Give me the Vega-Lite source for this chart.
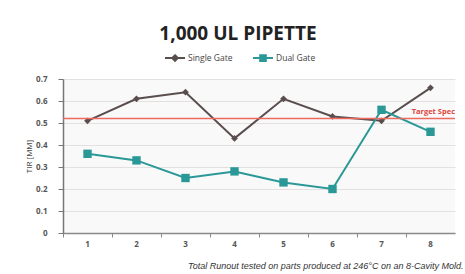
{
  "$schema": "https://vega.github.io/schema/vega-lite/v6.json",
  "width": 392,
  "height": 154,
  "autosize": {"type": "none"},
  "padding": {"left": 63, "top": 79, "right": 10, "bottom": 41},
  "background": "white",
  "config": {"view": {"fill": "#f9f9f9", "stroke": null}, "font": "Open Sans"},
  "title": {"text": "1,000 UL PIPETTE", "fontSize": 19, "fontWeight": "bold", "font": "Open Sans", "color": "#222222", "anchor": "middle", "frame": "group", "dx": -21, "offset": 3},
  "datasets": {
    "tir": [
      {"cavity": "1", "series": "Single Gate", "tir": 0.51},
      {"cavity": "2", "series": "Single Gate", "tir": 0.61},
      {"cavity": "3", "series": "Single Gate", "tir": 0.64},
      {"cavity": "4", "series": "Single Gate", "tir": 0.43},
      {"cavity": "5", "series": "Single Gate", "tir": 0.61},
      {"cavity": "6", "series": "Single Gate", "tir": 0.53},
      {"cavity": "7", "series": "Single Gate", "tir": 0.51},
      {"cavity": "8", "series": "Single Gate", "tir": 0.66},
      {"cavity": "1", "series": "Dual Gate", "tir": 0.36},
      {"cavity": "2", "series": "Dual Gate", "tir": 0.33},
      {"cavity": "3", "series": "Dual Gate", "tir": 0.25},
      {"cavity": "4", "series": "Dual Gate", "tir": 0.28},
      {"cavity": "5", "series": "Dual Gate", "tir": 0.23},
      {"cavity": "6", "series": "Dual Gate", "tir": 0.20},
      {"cavity": "7", "series": "Dual Gate", "tir": 0.56},
      {"cavity": "8", "series": "Dual Gate", "tir": 0.46}
    ],
    "target": [{"label": "Target Spec", "tir": 0.52, "cavity": "8"}]
  },
  "encoding": {
    "y": {"field": "tir", "type": "quantitative",
      "scale": {"domain": [0, 0.7], "nice": false},
      "axis": {"title": "TIR [MM]", "titleFontSize": 8, "titleFontWeight": "normal", "titleColor": "#444444", "titlePadding": 2,
        "values": [0, 0.1, 0.2, 0.3, 0.4, 0.5, 0.6, 0.7], "labelOverlap": false, "format": "~g", "labelFontSize": 8, "labelFontWeight": "bold", "labelColor": "#555555", "labelPadding": 11,
        "tickSize": 5, "tickColor": "#777777", "domainColor": "#777777", "domainWidth": 1.5, "gridColor": "#e4e0e0"}}
  },
  "layer": [
    {
      "data": {"name": "tir"},
      "mark": {"type": "line", "strokeWidth": 2},
      "encoding": {
        "x": {"field": "cavity", "type": "ordinal", "bandPosition": 0.5,
          "scale": {"type": "band", "paddingInner": 0, "paddingOuter": 0},
          "axis": {"orient": "bottom", "labelAngle": 0, "ticks": false, "labelPadding": 7, "labelFontSize": 8, "labelFontWeight": "bold", "labelColor": "#555555", "domainColor": "#8a8a8a", "domainWidth": 1.5,
            "title": "Total Runout tested on parts produced at 246°C on an 8-Cavity Mold.", "titleFont": "Liberation Sans", "titleFontSize": 9, "titleFontStyle": "italic", "titleFontWeight": "normal", "titleColor": "#333333", "titleAlign": "right", "titleX": 400, "titleY": 35, "titleBaseline": "alphabetic"}},
        "color": {"field": "series", "type": "nominal",
          "scale": {"domain": ["Single Gate", "Dual Gate"], "range": ["#5a4d4d", "#2a9896"]},
          "legend": {"orient": "none", "legendX": 101, "legendY": -32, "direction": "horizontal", "title": null, "symbolSize": 400, "symbolStrokeWidth": 2, "labelFontSize": 8.5, "labelColor": "#444444", "columnPadding": 16, "labelOffset": 2,
            "encode": {"symbols": {"update": {
              "shape": {"signal": "datum.value === 'Single Gate' ? 'M-1,0L1,0M0,-0.28L0.28,0L0,0.28L-0.28,0Z' : 'M-1,0L1,0M-0.28,-0.28L0.28,-0.28L0.28,0.28L-0.28,0.28Z'"},
              "size": {"value": 400},
              "fill": {"scale": "color", "field": "value"},
              "stroke": {"scale": "color", "field": "value"},
              "strokeWidth": {"value": 2},
              "strokeOpacity": {"value": 1},
              "opacity": {"value": 1}}}}}}
      }
    },
    {
      "data": {"name": "tir"},
      "transform": [{"filter": "datum.series === 'Single Gate'"}],
      "mark": {"type": "point", "filled": true, "opacity": 1, "shape": "diamond", "size": 45},
      "encoding": {
        "x": {"field": "cavity", "type": "ordinal", "bandPosition": 0.5, "axis": null},
        "color": {"field": "series", "type": "nominal", "legend": null}
      }
    },
    {
      "data": {"name": "tir"},
      "transform": [{"filter": "datum.series === 'Dual Gate'"}],
      "mark": {"type": "point", "filled": true, "opacity": 1, "shape": "square", "size": 70},
      "encoding": {
        "x": {"field": "cavity", "type": "ordinal", "bandPosition": 0.5, "axis": null},
        "color": {"field": "series", "type": "nominal", "legend": null}
      }
    },
    {
      "data": {"name": "target"},
      "mark": {"type": "rule", "color": "#ec6a60", "strokeWidth": 1.5}
    },
    {
      "data": {"name": "target"},
      "mark": {"type": "text", "color": "#e0443c", "fontSize": 7.5, "fontWeight": "bold", "align": "right", "baseline": "bottom", "dy": -3},
      "encoding": {
        "x": {"field": "cavity", "type": "ordinal", "bandPosition": 1,
          "axis": {"orient": "bottom", "bandPosition": 0, "labels": false, "ticks": true, "tickSize": 4, "tickColor": "#888888", "domain": false, "grid": false, "title": null}},
        "text": {"field": "label"}
      }
    }
  ],
  "resolve": {"axis": {"x": "independent"}}
}
